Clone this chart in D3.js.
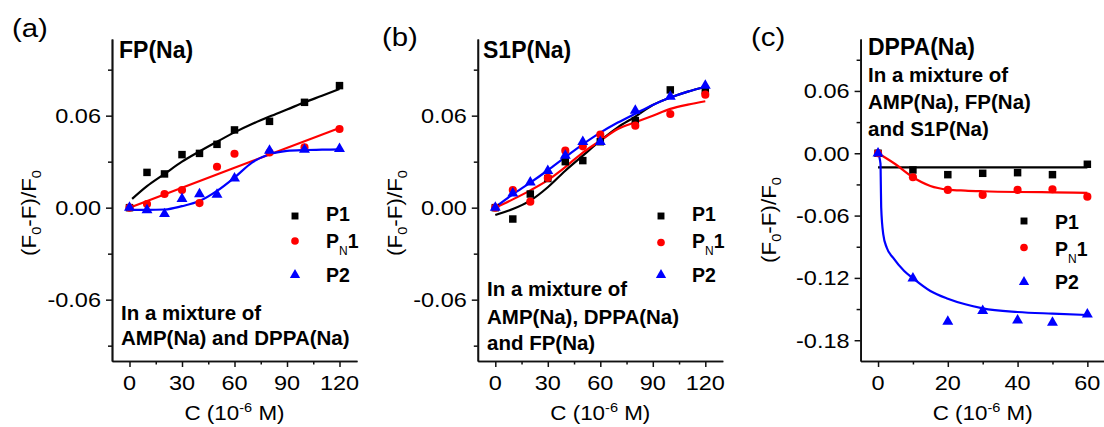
<!DOCTYPE html>
<html><head><meta charset="utf-8">
<script src="https://cdn.jsdelivr.net/npm/d3@7"></script>
<style>
html,body{margin:0;padding:0;background:#fff;}
svg{display:block;font-family:"Liberation Sans",Arial,sans-serif;}
</style></head>
<body><svg id="c" width="1104" height="427"></svg>
<script>
// ---------- data ----------
const concAB = [0,10,20,30,40,50,60,80,100,120];
const aP1  = [0.000,0.023,0.022,0.0346,0.0354,0.0413,0.0507,0.0563,0.0687,0.0796];
const aPN1 = [0.000,0.0024,0.0089,0.0115,0.003,0.0267,0.0352,0.036,0.0393,0.0513];
const aP2  = [0.000,-0.0015,-0.0041,0.0057,0.0089,0.0085,0.0191,0.0372,0.0378,0.0383];

const bP1  = [0.000,-0.0074,0.0089,0.019,0.030,0.0307,0.043,0.0568,0.0768,0.0765];
const bPN1 = [0.000,0.0115,0.0039,0.0194,0.0372,0.040,0.0476,0.0535,0.0611,0.0737];
const bP2  = [0.000,0.0093,0.0165,0.0241,0.0339,0.043,0.043,0.0633,0.0724,0.0796];

const concC = [0,10,20,30,40,50,60];
const cP1  = [0.000,-0.0161,-0.0206,-0.0193,-0.0187,-0.0206,-0.0106];
const cPN1 = [0.000,-0.0231,-0.0353,-0.0401,-0.0353,-0.0347,-0.0418];
const cP2  = [0.000,-0.1203,-0.162,-0.1518,-0.1608,-0.163,-0.155];

// fitted curves
const fitXa    = [1.5,10,20,30,40,50,60,70,80,90,100,110,120];
const fitAP1   = [0.0057,0.014,0.022,0.030,0.0367,0.043,0.0491,0.0545,0.0594,0.064,0.0687,0.073,0.0774];
const fitXaN   = [0,60,120];
const fitAPN1  = [0,0.026,0.052];
const fitXa2   = [0,10,20,30,40,50,60,70,80,90,100,110,120];
const fitAP2   = [-0.0013,-0.0015,-0.0012,0.001,0.0043,0.0109,0.0196,0.0294,0.0348,0.037,0.0376,0.0378,0.038];

const fitXb    = [0,10,20,30,40,50,60,70,80,90,100,110,120];
const fitBP1   = [-0.0048,-0.0009,0.0046,0.0133,0.0241,0.0339,0.0437,0.0524,0.0594,0.067,0.0718,0.0757,0.0787];
const fitBPN1  = [0,0.0054,0.0113,0.018,0.0265,0.0359,0.0437,0.0513,0.0557,0.060,0.0644,0.0672,0.0694];
const fitBP2   = [0.0004,0.0087,0.0163,0.0244,0.033,0.0413,0.0489,0.0555,0.0613,0.067,0.0718,0.0757,0.0787];

const fitXc1   = [0,60];
const fitCP1   = [-0.0135,-0.0135];
const fitXcN   = [0,5,10,15,20,25,30,40,50,60];
const fitCPN1  = [0,-0.0106,-0.0231,-0.0315,-0.035,-0.036,-0.0366,-0.0373,-0.0376,-0.0382];
const fitXc2   = [0,0.7,0.8,0.9,1.5,2.5,4.3,7.5,10,15,20,25,30,40,50,60];
const fitCP2   = [0,-0.01,-0.03,-0.052,-0.078,-0.091,-0.1005,-0.1133,-0.1203,-0.1326,-0.140,-0.1454,-0.1493,-0.1528,-0.1544,-0.1557];

// ticks
const xTicksAB = [0,30,60,90,120], xMinorAB = [15,45,75,105];
const yTicksAB = [-0.06,0,0.06],   yMinorAB = [-0.09,-0.03,0.03,0.09];
const xTicksC  = [0,20,40,60],     xMinorC  = [10,30,50];
const yTicksC  = [0.06,0,-0.06,-0.12,-0.18], yMinorC = [0.09,0.03,-0.03,-0.09,-0.15];

const seriesNames = ["P1","PN1","P2"];
const colors = {P1:"#000000", PN1:"#ff0000", P2:"#0000ff"};

// ---------- drawing ----------
const svg = d3.select("#c");
const SX = 1.12;

function stext(g, x, y, sx, rot){
  return g.append("text").attr("transform",
    `translate(${x},${y})` + (rot ? ` rotate(${rot})` : "") + ` scale(${sx},1)`);
}

function drawPanel(p){
  const g = svg.append("g");
  const x = d3.scaleLinear().domain(p.xDom).range(p.xRange);
  const y = d3.scaleLinear().domain(p.yDom).range([361,39]);

  // axes
  g.append("g").attr("transform","translate(0,361)")
     .call(d3.axisBottom(x).tickValues(p.xT).tickSize(6).tickSizeOuter(0).tickFormat(""));
  g.append("g").attr("transform","translate(0,361)")
     .call(d3.axisBottom(x).tickValues(p.xM).tickSize(3.5).tickSizeOuter(0).tickFormat(""));
  g.append("g").attr("transform",`translate(${p.xRange[0]},0)`)
     .call(d3.axisLeft(y).tickValues(p.yT).tickSize(6).tickSizeOuter(0).tickFormat(""));
  g.append("g").attr("transform",`translate(${p.xRange[0]},0)`)
     .call(d3.axisLeft(y).tickValues(p.yM).tickSize(4).tickSizeOuter(0).tickFormat(""));
  g.selectAll(".domain").attr("stroke","#111").attr("stroke-width",1.7);
  g.selectAll(".tick line").attr("stroke","#111").attr("stroke-width",1.5);

  // tick labels
  p.xT.forEach(v=>{
    stext(g, x(v), 390, SX).attr("text-anchor","middle").attr("font-size",21).text(v);
  });
  p.yT.forEach(v=>{
    stext(g, p.xRange[0]-11, y(v)+7.5, SX).attr("text-anchor","end").attr("font-size",21)
      .text(d3.format(".2f")(v).replace("\u2212","-"));
  });

  // axis titles
  const xl = stext(g, (p.xRange[0]+p.xRange[1])/2, 420, SX).attr("text-anchor","middle").attr("font-size",20);
  xl.append("tspan").text("C (10");
  xl.append("tspan").attr("font-size",13).attr("dy",-8).text("-6");
  xl.append("tspan").attr("dy",8).text(" M)");

  const yl = stext(g, p.xRange[0]-p.yLabOff, p.yLabY, SX, -90).attr("text-anchor","middle").attr("font-size",20);
  yl.append("tspan").text("(F");
  yl.append("tspan").attr("font-size",13).attr("dy",5).text("0");
  yl.append("tspan").attr("dy",-5).text("-F)/F");
  yl.append("tspan").attr("font-size",13).attr("dy",5).text("0");

  // panel letter
  stext(g, p.letterX, p.letterY, 1.13).attr("font-size",26).text(p.letter);

  // title + annotation
  g.append("text").attr("x",p.titleX).attr("y",p.titleY).attr("font-size",23)
    .attr("font-weight","bold").text(p.title);
  p.note.forEach((t,i)=>{
    g.append("text").attr("x",p.noteX).attr("y",p.noteY[i]).attr("font-size",20.5)
      .attr("font-weight","bold").text(t);
  });

  // fit lines
  const line = d3.line().x(d=>x(d[0])).y(d=>y(d[1])).curve(d3.curveMonotoneX);
  seriesNames.forEach(s=>{
    const f = p.fits[s];
    g.append("path").datum(f[0].map((xv,i)=>[xv,f[1][i]]))
      .attr("d",line).attr("fill","none").attr("stroke",colors[s]).attr("stroke-width",2.2);
  });

  // markers
  const sym = {P1:d3.symbol(d3.symbolSquare,56), PN1:d3.symbol(d3.symbolCircle,52), P2:d3.symbol(d3.symbolTriangle,52)};
  seriesNames.forEach(s=>{
    g.selectAll(null).data(p.conc.map((c,i)=>[c,p.data[s][i]])).join("path")
      .attr("transform",d=>`translate(${x(d[0])},${y(d[1])})`)
      .attr("d",sym[s]()).attr("fill",colors[s]);
  });

  // legend
  const L = p.legend;
  seriesNames.forEach((s,i)=>{
    g.append("path").attr("transform",`translate(${L.mx},${L.my[i]})`)
      .attr("d",d3.symbol(s==="P1"?d3.symbolSquare:s==="PN1"?d3.symbolCircle:d3.symbolTriangle, s==="P1"?48:46)())
      .attr("fill",colors[s]);
    const t = g.append("text").attr("x",L.tx).attr("y",L.ty[i]).attr("font-size",19.5).attr("font-weight","bold");
    if(s==="PN1"){
      t.append("tspan").text("P");
      t.append("tspan").attr("font-size",12).attr("font-weight","normal").attr("dy",7).text("N");
      t.append("tspan").attr("dy",-7).text("1");
    } else t.text(s);
  });
}

drawPanel({
  xDom:[-10,130], xRange:[112,357], yDom:[-0.1,0.11],
  xT:xTicksAB, xM:xMinorAB, yT:yTicksAB, yM:yMinorAB,
  yLabOff:76, yLabY:213, letter:"(a)", letterX:12, letterY:37,
  title:"FP(Na)", titleX:119, titleY:58,
  note:["In a mixture of","AMP(Na) and DPPA(Na)"], noteX:121, noteY:[320,345],
  conc:concAB, data:{P1:aP1, PN1:aPN1, P2:aP2},
  fits:{P1:[fitXa,fitAP1], PN1:[fitXaN,fitAPN1], P2:[fitXa2,fitAP2]},
  legend:{mx:295, my:[216,241,275], tx:326, ty:[221,248,282]}
});
drawPanel({
  xDom:[-10,130], xRange:[477.8,722.8], yDom:[-0.1,0.11],
  xT:xTicksAB, xM:xMinorAB, yT:yTicksAB, yM:yMinorAB,
  yLabOff:76, yLabY:213, letter:"(b)", letterX:382, letterY:46,
  title:"S1P(Na)", titleX:483, titleY:58,
  note:["In a mixture of","AMP(Na), DPPA(Na)","and FP(Na)"], noteX:487, noteY:[296,324,350],
  conc:concAB, data:{P1:bP1, PN1:bPN1, P2:bP2},
  fits:{P1:[fitXb,fitBP1], PN1:[fitXb,fitBPN1], P2:[fitXb,fitBP2]},
  legend:{mx:661, my:[216,242.5,275], tx:692, ty:[221,248,282]}
});
drawPanel({
  xDom:[-5,65], xRange:[860.6,1104.8], yDom:[-0.2,0.11],
  xT:xTicksC, xM:xMinorC, yT:yTicksC, yM:yMinorC,
  yLabOff:85, yLabY:220, letter:"(c)", letterX:751, letterY:46,
  title:"DPPA(Na)", titleX:868, titleY:55,
  note:["In a mixture of","AMP(Na), FP(Na)","and S1P(Na)"], noteX:868, noteY:[82,109,136],
  conc:concC, data:{P1:cP1, PN1:cPN1, P2:cP2},
  fits:{P1:[fitXc1,fitCP1], PN1:[fitXcN,fitCPN1], P2:[fitXc2,fitCP2]},
  legend:{mx:1024, my:[221,247.5,282], tx:1055, ty:[229,256,289]}
});
</script></body></html>
